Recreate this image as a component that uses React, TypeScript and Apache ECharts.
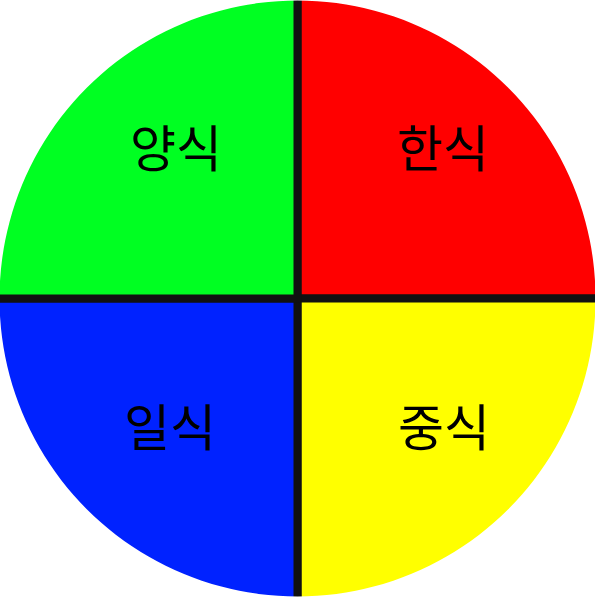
import { useEffect, useRef } from "react";
import * as echarts from "echarts";

const categories = ["한식", "중식", "일식", "양식"];
const values = [25, 25, 25, 25];
const colors = ["#ff0000", "#ffff00", "#0022ff", "#00ff22"];
// label nudges
const labelOffsets = [
  [2, -10],
  [3, -18],
  [16, -18],
  [22, -10],
];

export default function App() {
  const chartRef = useRef<HTMLDivElement>(null);

  useEffect(() => {
    document.body.style.margin = "0";
    if (!chartRef.current) return;
    const chart = echarts.init(chartRef.current, null, { renderer: "svg" });

    const sliceData = categories.map((name, i) => ({
      name,
      value: values[i],
      itemStyle: { color: colors[i] },
    }));

    chart.setOption({
      animation: false,
      backgroundColor: "#ffffff",
      series: [
        {
          // coloured slices, black edges between them
          type: "pie",
          silent: true,
          center: ["50%", "50%"],
          radius: [0, 303],
          startAngle: 90,
          clockwise: true,
          label: { show: false },
          labelLine: { show: false },
          itemStyle: { borderColor: "#111111", borderWidth: 8 },
          data: sliceData,
        },
        {
          // white ring hides the outer arc of the border
          type: "pie",
          silent: true,
          center: ["50%", "50%"],
          radius: [298, 340],
          label: { show: false },
          labelLine: { show: false },
          itemStyle: { color: "#ffffff", borderWidth: 0 },
          data: [{ name: "", value: 1 }],
        },
        {
          // labels only
          type: "pie",
          silent: true,
          center: ["50%", "50%"],
          radius: [0, 400],
          startAngle: 90,
          clockwise: true,
          itemStyle: { color: "transparent", borderWidth: 0 },
          label: {
            show: true,
            position: "inside",
            formatter: "{b}",
            color: "#000000",
            fontSize: 50,
            fontFamily: "Noto Sans CJK KR",
          },
          labelLine: { show: false },
          data: categories.map((name, i) => ({
            name,
            value: values[i],
            label: { offset: labelOffsets[i] },
          })),
        },
      ],
    });

    return () => chart.dispose();
  }, []);

  return <div ref={chartRef} style={{ width: 595, height: 597 }} />;
}
